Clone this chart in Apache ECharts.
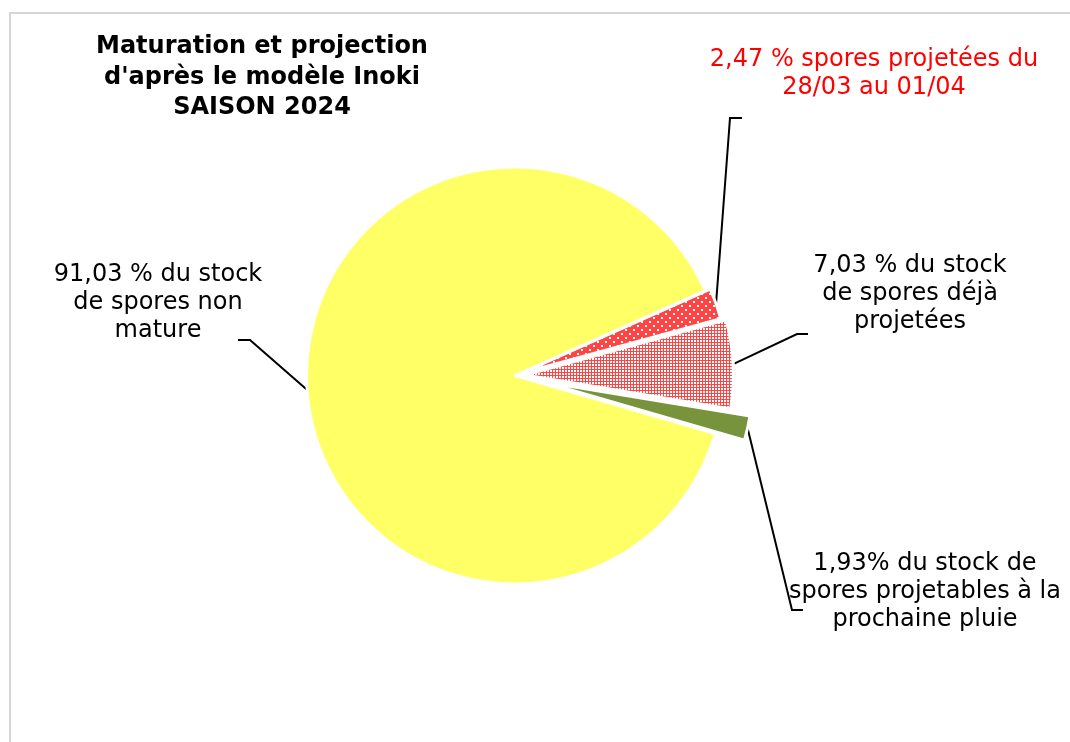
<!DOCTYPE html>
<html>
<head>
<meta charset="utf-8">
<script src="https://cdn.jsdelivr.net/npm/echarts@6/dist/echarts.min.js"></script>
<style>
  html, body { margin: 0; padding: 0; background: #ffffff; }
  #chart { position: absolute; left: 0; top: 0; width: 1070px; height: 742px; }
  #frame {
    position: absolute; left: 9px; top: 12px; width: 1100px; height: 800px;
    border-left: 2px solid #d6d6d6; border-top: 2px solid #d6d6d6;
    box-sizing: border-box; pointer-events: none;
  }
</style>
</head>
<body>
<div id="chart"></div>
<div id="frame"></div>
<script>
// Spore stock shares for the 2024 season (Inoki model), clockwise from the top-right
const categories = [
  'projetées du 28/03 au 01/04',
  'déjà projetées',
  'projetables à la prochaine pluie',
  'non mature'
];
const values = [2.47, 7.03, 1.93, 91.03];
const labelTemplates = [
  '{v} % spores projetées du\n28/03 au 01/04',
  '{v} % du stock\nde spores déjà\nprojetées',
  '{v}% du stock de\nspores projetables à la\nprochaine pluie',
  '{v} % du stock\nde spores non\nmature'
];
const titleText = "Maturation et projection\nd'après le modèle Inoki\nSAISON 2024";

// ---- layout & styling ----
const PIE = { cx: 515, cy: 375.5, r: 208.5, startAngle: 24 };
const explode = [5, 10, 30, 0];
const labelAnchors = [
  { x: 874, y: 46 },
  { x: 910, y: 251.5 },
  { x: 925, y: 550 },
  { x: 158, y: 261 }
];
const leaderBends = [
  [[730, 118], [742, 118]],
  [[797, 334], [808, 334]],
  [[792, 610], [803, 610]],
  [[250, 340], [238, 340]]
];
const labelColors = ['#ff0000', '#000000', '#000000', '#000000'];

function dottedRed() {
  const c = document.createElement('canvas');
  c.width = 8; c.height = 8;
  const g = c.getContext('2d');
  g.fillStyle = '#ff4444';
  g.fillRect(0, 0, 8, 8);
  g.fillStyle = '#ffffff';
  g.fillRect(1, 1, 2, 2);
  g.fillRect(5, 5, 2, 2);
  return c;
}
function gridPink() {
  const c = document.createElement('canvas');
  c.width = 3; c.height = 3;
  const g = c.getContext('2d');
  g.fillStyle = '#ff4444';
  g.fillRect(0, 0, 3, 3);
  g.fillStyle = '#ffffff';
  g.fillRect(1, 1, 2, 2);
  return c;
}
const fills = [
  { image: dottedRed(), repeat: 'repeat' },
  { image: gridPink(), repeat: 'repeat' },
  '#77933c',
  '#ffff66'
];

function fmt(v) { return v.toFixed(2).replace('.', ','); }

const total = values.reduce((a, b) => a + b, 0);
let acc = 0;
const series = values.map((v, i) => {
  const a0 = PIE.startAngle - acc / total * 360;
  acc += v;
  const a1 = PIE.startAngle - acc / total * 360;
  const mid = (a0 + a1) / 2 * Math.PI / 180;
  const cx = PIE.cx + explode[i] * Math.cos(mid);
  const cy = PIE.cy - explode[i] * Math.sin(mid);
  return {
    type: 'pie',
    name: categories[i],
    center: [cx, cy],
    radius: PIE.r,
    startAngle: PIE.startAngle,
    clockwise: true,
    silent: true,
    animation: false,
    avoidLabelOverlap: false,
    data: values.map((w, j) => ({
      name: categories[j],
      value: w,
      itemStyle: j === i
        ? { color: fills[i], borderColor: '#ffffff', borderWidth: 3 }
        : { color: 'rgba(0,0,0,0)', borderWidth: 0 },
      label: { show: j === i },
      labelLine: { show: j === i }
    })),
    label: {
      position: 'outside',
      fontFamily: 'DejaVu Sans',
      fontSize: 24,
      lineHeight: 28,
      color: labelColors[i],
      align: 'center',
      formatter: p => labelTemplates[p.dataIndex].replace('{v}', fmt(p.value))
    },
    labelLine: {
      show: true,
      length: 10,
      length2: 10,
      lineStyle: { color: '#000000', width: 2 }
    },
    labelLayout: p => {
      if (p.dataIndex !== i) return {};
      const start = p.labelLinePoints ? p.labelLinePoints[0] : leaderBends[i][0];
      return {
        x: labelAnchors[i].x,
        y: labelAnchors[i].y,
        align: 'center',
        verticalAlign: 'top',
        labelLinePoints: [start].concat(leaderBends[i])
      };
    }
  };
});

const chart = echarts.init(document.getElementById('chart'), null, { renderer: 'canvas' });
chart.setOption({
  animation: false,
  backgroundColor: 'transparent',
  graphic: [{
    type: 'text',
    x: 262,
    y: 32,
    style: {
      text: titleText,
      fill: '#000000',
      font: 'bold 24px "DejaVu Sans"',
      align: 'center',
      verticalAlign: 'top',
      lineHeight: 30.5
    }
  }],
  series: series
});
</script>
</body>
</html>
